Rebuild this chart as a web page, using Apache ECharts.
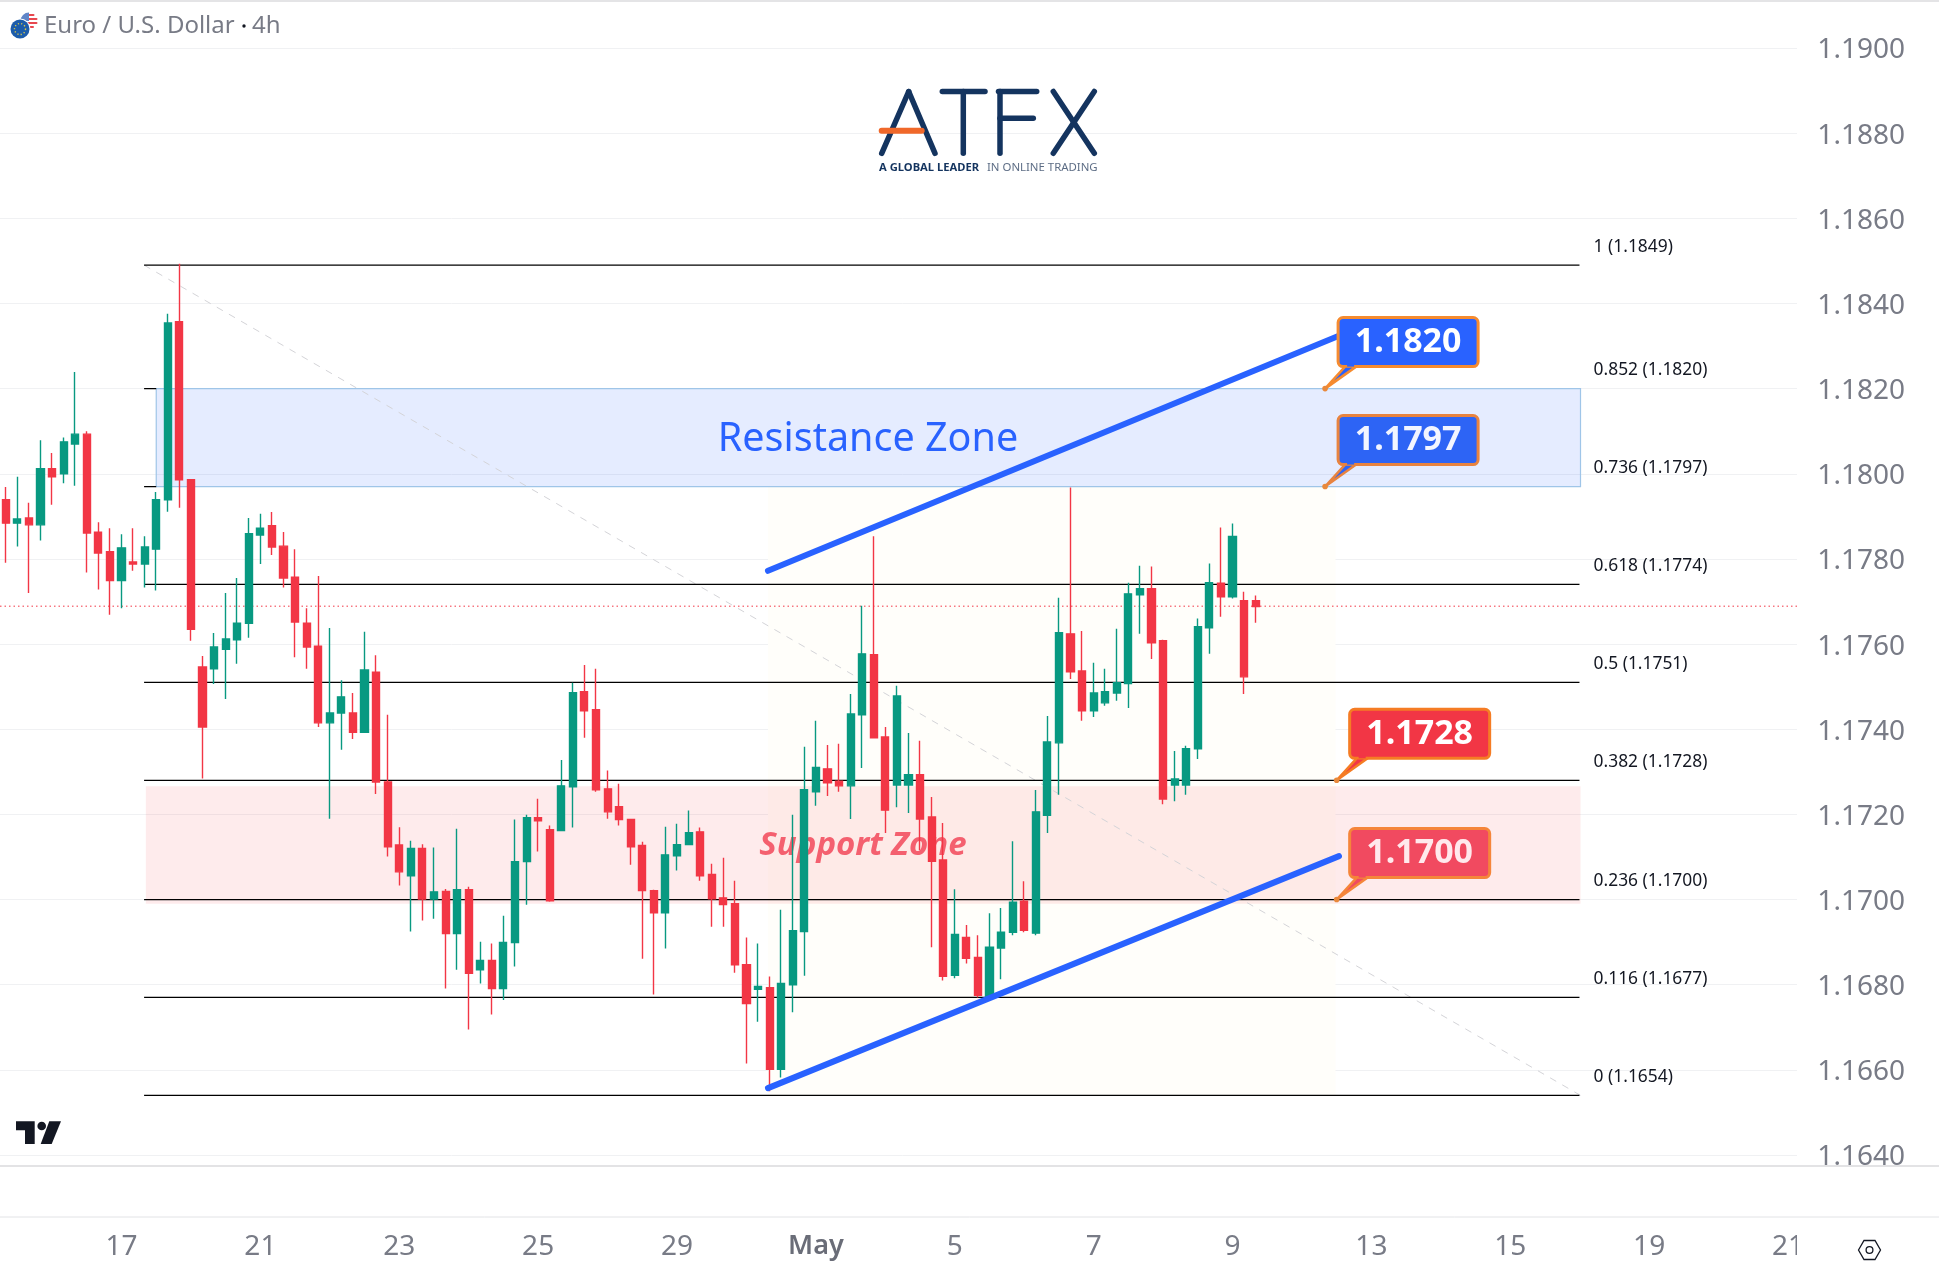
<!DOCTYPE html>
<html>
<head>
<meta charset="utf-8">
<title>EUR/USD 4h</title>
<script src="https://cdn.jsdelivr.net/npm/echarts@6/dist/echarts.min.js"></script>
<style>
  html, body { margin: 0; padding: 0; background: #ffffff; }
  #chart { width: 1939px; height: 1279px; }
</style>
</head>
<body>
<div id="chart"></div>
<script>
// EUR/USD 4-hour candles, one entry per bar
const opens = [
  1.17939,1.17884,1.17896,1.17880,1.18012,1.18000,1.18070,1.18093,1.17863,1.17817,
  1.17749,1.17793,1.17788,1.17823,1.17939,1.18357,1.17986,1.17546,1.17542,1.17588,
  1.17610,1.17649,1.17856,1.17878,1.17830,1.17757,1.17649,1.17595,1.17415,1.17438,
  1.17438,1.17393,1.17534,1.17276,1.17128,1.17056,1.17120,1.17001,1.17019,1.16920,
  1.17023,1.16835,1.16857,1.16791,1.16899,1.17089,1.17192,1.17164,1.17162,1.17265,
  1.17488,1.17446,1.17260,1.17218,1.17188,1.17127,1.17021,1.16969,1.17103,1.17129,
  1.17159,1.17059,1.17004,1.16990,1.16847,1.16789,1.16793,1.16601,1.16800,1.16925,
  1.17253,1.17307,1.17278,1.17267,1.17434,1.17575,1.17382,1.17269,1.17269,1.17293,
  1.17194,1.17093,1.16822,1.16911,1.16864,1.16773,1.16886,1.16923,1.16996,1.16921,
  1.17198,1.17368,1.17624,1.17537,1.17443,1.17462,1.17485,1.17507,1.17716,1.17730,
  1.17608,1.17269,1.17269,1.17354,1.17638,1.17743,1.17711,1.17702,1.17702
];
const closes = [
  1.17884,1.17894,1.17880,1.18012,1.17993,1.18075,1.18093,1.17861,1.17814,1.17749,
  1.17826,1.17788,1.17828,1.17939,1.18354,1.17986,1.17635,1.17405,1.17593,1.17612,
  1.17649,1.17859,1.17872,1.17828,1.17755,1.17652,1.17593,1.17415,1.17438,1.17476,
  1.17393,1.17539,1.17276,1.17124,1.17065,1.17120,1.17001,1.17018,1.16920,1.17023,
  1.16827,1.16857,1.16791,1.16899,1.17089,1.17192,1.17185,1.16997,1.17267,1.17486,
  1.17443,1.17258,1.17206,1.17188,1.17124,1.17021,1.16969,1.17105,1.17129,1.17157,
  1.17056,1.17002,1.16988,1.16847,1.16756,1.16796,1.16601,1.16803,1.16927,1.17258,
  1.17310,1.17274,1.17267,1.17436,1.17577,1.17380,1.17210,1.17478,1.17293,1.17189,
  1.17090,1.16820,1.16918,1.16862,1.16775,1.16888,1.16923,1.16994,1.16928,1.17206,
  1.17370,1.17627,1.17535,1.17443,1.17485,1.17488,1.17509,1.17718,1.17730,1.17603,
  1.17236,1.17283,1.17354,1.17641,1.17744,1.17711,1.17853,1.17523,1.17688
];
const lows = [
  1.17791,1.17829,1.17720,1.17843,1.17927,1.17978,1.17972,1.17768,1.17728,1.17669,
  1.17684,1.17772,1.17733,1.17726,1.17911,1.17920,1.17608,1.17284,1.17506,1.17471,
  1.17554,1.17615,1.17788,1.17809,1.17733,1.17569,1.17542,1.17405,1.17190,1.17352,
  1.17377,1.17391,1.17248,1.17101,1.17033,1.16925,1.16951,1.16955,1.16791,1.16835,
  1.16695,1.16803,1.16730,1.16764,1.16843,1.16988,1.17113,1.16995,1.17162,1.17169,
  1.17380,1.17253,1.17190,1.17174,1.17082,1.16861,1.16777,1.16885,1.17068,1.17129,
  1.17044,1.16936,1.16936,1.16828,1.16615,1.16713,1.16550,1.16582,1.16735,1.16821,
  1.17220,1.17243,1.17253,1.17189,1.17309,1.17380,1.17156,1.17217,1.17203,1.17116,
  1.16888,1.16810,1.16815,1.16850,1.16770,1.16763,1.16813,1.16916,1.16923,1.16916,
  1.17156,1.17246,1.17518,1.17420,1.17429,1.17455,1.17467,1.17450,1.17624,1.17565,
  1.17224,1.17231,1.17246,1.17330,1.17577,1.17664,1.17707,1.17483,1.17650
];
const highs = [
  1.17969,1.17993,1.17932,1.18079,1.18049,1.18085,1.18239,1.18100,1.17886,1.17872,
  1.17858,1.17872,1.17853,1.17957,1.18376,1.18493,1.17986,1.17572,1.17626,1.17720,
  1.17755,1.17896,1.17906,1.17910,1.17863,1.17823,1.17684,1.17760,1.17638,1.17515,
  1.17485,1.17629,1.17574,1.17434,1.17170,1.17138,1.17130,1.17122,1.17025,1.17166,
  1.17030,1.16901,1.16897,1.16962,1.17188,1.17199,1.17237,1.17174,1.17328,1.17509,
  1.17551,1.17542,1.17303,1.17272,1.17190,1.17136,1.17023,1.17171,1.17178,1.17209,
  1.17169,1.17084,1.17098,1.17044,1.16911,1.16897,1.16819,1.16976,1.17199,1.17359,
  1.17420,1.17363,1.17366,1.17483,1.17690,1.17853,1.17405,1.17502,1.17391,1.17373,
  1.17241,1.17180,1.17024,1.16940,1.16916,1.16968,1.16980,1.17137,1.17043,1.17257,
  1.17431,1.17709,1.17968,1.17631,1.17556,1.17542,1.17636,1.17744,1.17784,1.17782,
  1.17610,1.17349,1.17361,1.17660,1.17789,1.17874,1.17883,1.17723,1.17714
];

// Time scale labels and the bar slots they sit under
const tickLabels = ['17','21','23','25','29','May','5','7','9','13','15','19','21'];
const tickSlots = [10,22,34,46,58,70,82,94,106,118,130,142,154];
const slotCount = 156;

// Price scale
const priceMin = 1.164;
const priceMax = 1.19;
const priceStep = 0.002;
const lastPrice = 1.17689;

// Fibonacci retracement levels
const fibRatios = ['1','0.852','0.736','0.618','0.5','0.382','0.236','0.116','0'];
const fibPrices = [1.1849,1.1820,1.1797,1.1774,1.1751,1.1728,1.1700,1.1677,1.1654];
const fibStart = 11.95;
const fibEnd = 135.98;
const fibEndUnderZone = 13.0;
const fibLabelSlot = 137.2;

// Zones drawn behind the candles: [left slot, right slot, upper price, lower price]
const resistanceZone = [13.0,136.07,1.1820,1.1797];
const supportZone = [12.1,136.07,1.17266,1.1699];
const channelTint = [65.86,114.9,1.1797,1.1654];

// Channel trend lines and the dashed retracement diagonal
const upperTrend = [[65.86,1.17772],[115.2,1.18324]];
const lowerTrend = [[65.86,1.16557],[115.2,1.17102]];
const fibDiagonal = [[11.95,1.1849],[136.07,1.1654]];

// Price callouts
const calloutPrices = [1.1820,1.1797,1.1728,1.1700];
const calloutSlots = [114,114,115,115];
const calloutFills = ['#2962ff','#2d64f5','#f23645','#f14a60'];
const calloutEdges = ['#f68b2f','#e8833f','#f57c24','#f5853a'];
const calloutInks = ['#ffffff','#f2f5ff','#ffffff','#ffe9ec'];

const FONT = '"Noto Sans", sans-serif';
const GREY = '#787b86';
const NAVY = '#14345f';

const candles = opens.map((o, i) => [o, closes[i], lows[i], highs[i]]);
const categories = Array.from({ length: slotCount }, (_, i) => {
  const t = tickSlots.indexOf(i);
  return t >= 0 ? tickLabels[t] : '';
});

function overlayLine(name, data, lineStyle, z) {
  return {
    name, type: 'line', xAxisIndex: 1, yAxisIndex: 0, data, z,
    symbol: 'none', silent: true, animation: false, lineStyle
  };
}

function bandSeries(name, band, style, z) {
  return {
    name, type: 'custom', xAxisIndex: 1, yAxisIndex: 0, z, silent: true,
    data: [band],
    encode: { x: [0, 1], y: [2, 3] },
    renderItem(params, api) {
      const a = api.coord([api.value(0), api.value(2)]);
      const b = api.coord([api.value(1), api.value(3)]);
      return { type: 'rect', shape: { x: a[0], y: a[1], width: b[0] - a[0], height: b[1] - a[1] }, style };
    }
  };
}

function textSeries(name, slot, price, text, font, fill, z, align) {
  return {
    name, type: 'custom', xAxisIndex: 1, yAxisIndex: 0, z, silent: true,
    data: [[slot, price]],
    encode: { x: 0, y: 1 },
    renderItem(params, api) {
      const p = api.coord([api.value(0), api.value(1)]);
      return { type: 'text', style: { text, x: p[0], y: p[1], font, fill, align: align || 'center', verticalAlign: 'middle' } };
    }
  };
}

const fibSeries = fibPrices.map((price, i) => {
  // The two levels bounding the resistance zone only show as stubs left of it
  const end = (i === 1 || i === 2) ? fibEndUnderZone : fibEnd;
  return overlayLine('fib ' + fibRatios[i], [[fibStart, price], [end, price]], { color: '#000000', width: 1.3 }, 3);
});

const fibLabelSeries = {
  name: 'fib labels', type: 'custom', xAxisIndex: 1, yAxisIndex: 0, z: 6, silent: true,
  data: fibPrices.map(p => [fibLabelSlot, p]),
  encode: { x: 0, y: 1 },
  renderItem(params, api) {
    const p = api.coord([api.value(0), api.value(1)]);
    const i = params.dataIndex;
    return {
      type: 'text',
      style: {
        text: fibRatios[i] + ' (' + fibPrices[i].toFixed(4) + ')',
        x: p[0], y: p[1] - 18.5, font: '17.4px ' + FONT, fill: '#131722', align: 'left', verticalAlign: 'middle'
      }
    };
  }
};

const calloutSeries = {
  name: 'callouts', type: 'custom', xAxisIndex: 1, yAxisIndex: 0, z: 7, silent: true,
  data: calloutPrices.map((p, i) => [calloutSlots[i], p]),
  encode: { x: 0, y: 1 },
  renderItem(params, api) {
    const p = api.coord([api.value(0), api.value(1)]);
    const i = params.dataIndex;
    const fill = calloutFills[i];
    const edge = calloutEdges[i];
    return {
      type: 'group', x: p[0], y: p[1],
      children: [
        { type: 'rect', shape: { x: 13, y: -71, width: 140, height: 49, r: 5 }, style: { fill, stroke: edge, lineWidth: 3 } },
        { type: 'polygon', shape: { points: [[0, 0], [20, -22], [31, -22]] }, style: { fill, stroke: edge, lineWidth: 2.5, lineJoin: 'round' } },
        { type: 'rect', shape: { x: 22, y: -25, width: 7, height: 3 }, style: { fill } },
        { type: 'circle', shape: { cx: 0, cy: 0, r: 2.8 }, style: { fill: '#e8893c' } },
        { type: 'text', style: { text: calloutPrices[i].toFixed(4), x: 83, y: -46, font: 'bold 34px ' + FONT, fill: calloutInks[i], align: 'center', verticalAlign: 'middle' } }
      ]
    };
  }
};

// Brand marks and chrome that sit outside the price and time scales
function stroke(x1, y1, x2, y2, color, width) {
  return { type: 'line', silent: true, z: 50, shape: { x1, y1, x2, y2 }, style: { stroke: color, lineWidth: width, lineCap: 'round' } };
}
function rule(y, color, width) {
  return { type: 'line', silent: true, z: 101, shape: { x1: 0, y1: y, x2: 1939, y2: y }, style: { stroke: color, lineWidth: width } };
}
function cover(x, y, width, height) {
  return { type: 'rect', silent: true, z: 100, shape: { x, y, width, height }, style: { fill: '#ffffff' } };
}

const chrome = [
  // Trim price-scale and time-scale overflow
  cover(1797, 0, 18, 1166),
  cover(0, 1167, 1939, 49),
  cover(1797, 1218, 142, 61),
  rule(1, '#e4e4e6', 2),
  rule(1166, '#e3e3e5', 2),
  rule(1217, '#e2e3e6', 1),

  // Symbol title
  { type: 'circle', silent: true, z: 50, shape: { cx: 29, cy: 21, r: 8.5 }, style: { fill: '#ffffff' } },
  { type: 'sector', silent: true, z: 51, shape: { cx: 29, cy: 21, r: 8.5, startAngle: Math.PI, endAngle: Math.PI * 1.5 }, style: { fill: '#5f86c8' } },
  stroke(29, 15, 33.5, 15, '#e8474f', 2),
  stroke(29, 19, 36.5, 19, '#e8474f', 2),
  stroke(22, 23, 36.5, 23, '#e8474f', 2),
  stroke(27, 27, 33, 27, '#e8474f', 2),
  { type: 'circle', silent: true, z: 52, shape: { cx: 20, cy: 29, r: 10.5 }, style: { fill: '#ffffff' } },
  { type: 'circle', silent: true, z: 53, shape: { cx: 20, cy: 29, r: 9.5 }, style: { fill: '#1b5cab' } },
  { type: 'circle', silent: true, z: 54, shape: { cx: 20, cy: 29, r: 5.5 }, style: { fill: 'none', stroke: '#d9c94a', lineWidth: 1.4, lineDash: [1.2, 2.1] } },
  { type: 'text', silent: true, z: 50, style: { text: 'Euro / U.S. Dollar', x: 44, y: 26, font: '24px ' + FONT, fill: GREY, verticalAlign: 'middle' } },
  { type: 'circle', silent: true, z: 50, shape: { cx: 244, cy: 26, r: 1.7 }, style: { fill: '#131722' } },
  { type: 'text', silent: true, z: 50, style: { text: '4h', x: 252, y: 26, font: '24px ' + FONT, fill: GREY, verticalAlign: 'middle' } },

  // ATFX wordmark
  stroke(908.7, 91.5, 881.7, 153.3, NAVY, 5.5),
  stroke(908.7, 91.5, 935, 153.3, NAVY, 5.5),
  stroke(881.7, 130.7, 921.7, 130.7, '#f0682a', 6),
  stroke(942.3, 91.5, 985, 91.5, NAVY, 5.5),
  stroke(963.3, 91.5, 963.3, 153.3, NAVY, 5.5),
  stroke(998.5, 91.5, 1036.7, 91.5, NAVY, 5.5),
  stroke(1000, 91.5, 1000, 153.3, NAVY, 5.5),
  stroke(1000, 118.3, 1033.3, 118.3, NAVY, 5.5),
  stroke(1053.3, 91.5, 1094.3, 153.3, NAVY, 5.5),
  stroke(1094.3, 91.5, 1053.3, 153.3, NAVY, 5.5),
  { type: 'text', silent: true, z: 50, style: { text: 'A GLOBAL LEADER', x: 879, y: 168, font: 'bold 11.2px ' + FONT, fill: NAVY, verticalAlign: 'middle' } },
  { type: 'text', silent: true, z: 50, style: { text: 'IN ONLINE TRADING', x: 987, y: 168, font: '11.4px ' + FONT, fill: '#5d6d85', verticalAlign: 'middle' } },

  // TradingView mark
  { type: 'polygon', silent: true, z: 50, shape: { points: [[16, 1121.3], [34.7, 1121.3], [34.7, 1144], [25, 1144], [25, 1130.3], [16, 1130.3]] }, style: { fill: '#131722' } },
  { type: 'circle', silent: true, z: 50, shape: { cx: 41.7, cy: 1126, r: 4.3 }, style: { fill: '#131722' } },
  { type: 'polygon', silent: true, z: 50, shape: { points: [[49.3, 1121.3], [61, 1121.3], [51.7, 1144], [40.7, 1144]] }, style: { fill: '#131722' } },

  // Scale settings button
  { type: 'polygon', silent: true, z: 102, shape: { points: [[1858.5, 1250], [1864, 1240.5], [1875, 1240.5], [1880.5, 1250], [1875, 1259.5], [1864, 1259.5]] }, style: { fill: 'none', stroke: '#131722', lineWidth: 1.3 } },
  { type: 'circle', silent: true, z: 102, shape: { cx: 1869.5, cy: 1250, r: 3.4 }, style: { fill: 'none', stroke: '#131722', lineWidth: 1.3 } }
];

const chart = echarts.init(document.getElementById('chart'), null, { renderer: 'canvas' });
chart.setOption({
  animation: false,
  backgroundColor: '#ffffff',
  grid: { left: -2.2, top: 48, width: slotCount * 11.587, height: 1107, containLabel: false },
  xAxis: [
    {
      type: 'category',
      data: categories,
      boundaryGap: true,
      axisLine: { show: false },
      axisTick: { show: false },
      splitLine: { show: false },
      axisLabel: {
        interval: (index) => tickSlots.includes(index),
        hideOverlap: false,
        margin: 78,
        fontFamily: FONT,
        fontSize: 28,
        color: GREY,
        formatter: (v) => (v === 'May' ? '{m|May}' : v),
        rich: { m: { fontFamily: FONT, fontSize: 27, fontWeight: 600, color: '#6a6d78' } }
      }
    },
    { type: 'value', min: -0.5, max: slotCount - 0.5, show: false, splitLine: { show: false } }
  ],
  yAxis: {
    type: 'value',
    position: 'right',
    min: priceMin,
    max: priceMax,
    interval: priceStep,
    axisLine: { show: false },
    axisTick: { show: false },
    splitLine: { show: true, lineStyle: { color: '#f0f1f3', width: 1 } },
    axisLabel: {
      inside: false,
      margin: 12,
      color: GREY,
      formatter: (v) => '{p|' + v.toFixed(4) + '}',
      rich: { p: { fontFamily: FONT, fontSize: 28, color: GREY, padding: [5, 0, 0, 0] } }
    }
  },
  series: [
    bandSeries('channel tint', channelTint, { fill: '#fffefa' }, 1),
    bandSeries('resistance zone', resistanceZone, { fill: 'rgba(41,98,255,0.12)', stroke: '#9fc5e8', lineWidth: 1.2 }, 2),
    bandSeries('support zone', supportZone, { fill: 'rgba(242,54,69,0.10)' }, 2),
    overlayLine('last price', [[-0.5, lastPrice], [slotCount - 0.5, lastPrice]], { color: '#f23645', width: 1, type: [1.5, 3] }, 3),
    overlayLine('retracement diagonal', fibDiagonal, { color: '#d4d4d8', width: 1, type: [7, 7] }, 3),
    ...fibSeries,
    textSeries('resistance label', 74.5, 1.18079, 'Resistance Zone', '39.5px ' + FONT, '#2962ff', 4),
    textSeries('support label', 74.07, 1.17126, 'Support Zone', 'italic bold 33px ' + FONT, '#f4606f', 4),
    {
      name: 'EUR/USD',
      type: 'candlestick',
      xAxisIndex: 0,
      yAxisIndex: 0,
      z: 5,
      barWidth: 7.6,
      silent: true,
      data: candles,
      itemStyle: {
        color: '#089981', color0: '#f23645',
        borderColor: '#089981', borderColor0: '#f23645',
        borderWidth: 1.4
      }
    },
    overlayLine('upper trend', upperTrend, { color: '#2962ff', width: 6, cap: 'round' }, 6),
    overlayLine('lower trend', lowerTrend, { color: '#2962ff', width: 6, cap: 'round' }, 6),
    fibLabelSeries,
    calloutSeries
  ],
  graphic: { elements: chrome }
});
</script>
</body>
</html>
